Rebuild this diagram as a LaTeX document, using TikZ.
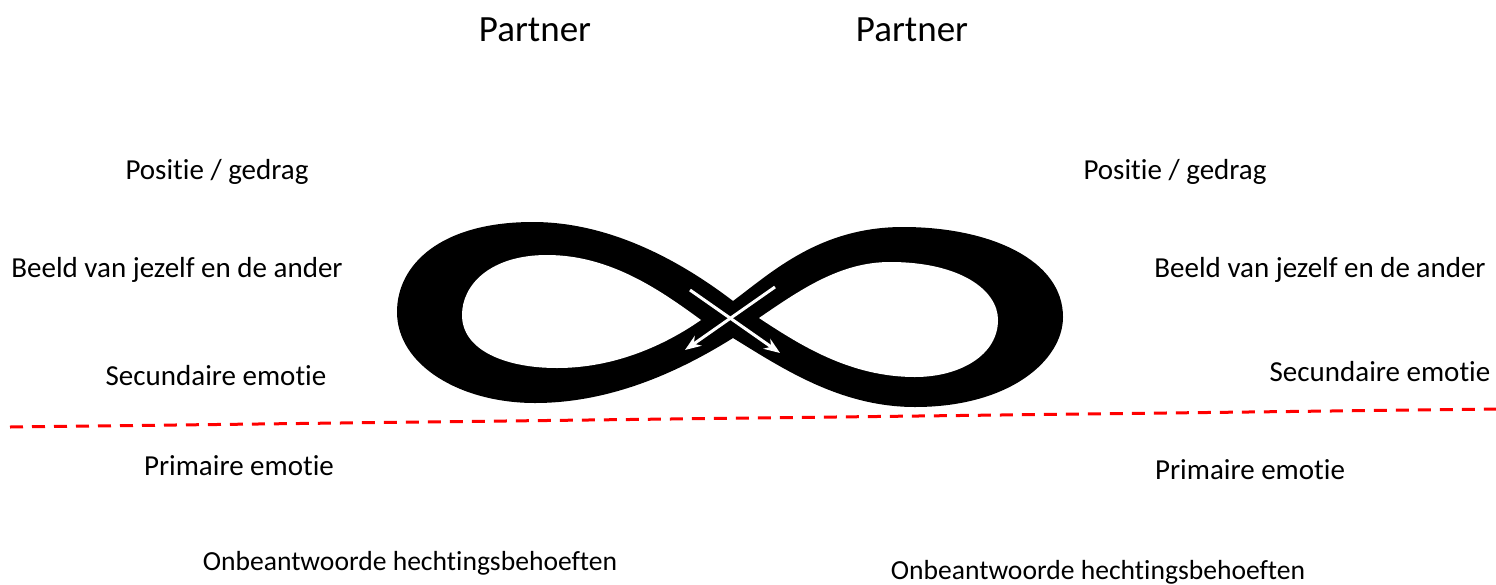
\documentclass[tikz,border=0pt]{standalone}
\usepackage{fontspec}
\setmainfont{Carlito}[Ligatures=NoCommon]
\usetikzlibrary{arrows.meta}

\tikzset{
  lbl/.style={font=\fontsize{29}{35}\selectfont, inner sep=0pt},
  needlbl/.style={font=\fontsize{27.6}{33}\selectfont, inner sep=0pt},
  partnerlbl/.style={font=\fontsize{37}{44}\selectfont, inner sep=0pt},
  crossarrow/.style={white, line width=3pt, -{Stealth[length=16pt, width=12pt]}},
}

\begin{document}
\begin{tikzpicture}[x=1pt, y=-1pt]
  \useasboundingbox (0,0) rectangle (1496,584);

  % -- Partners --
  \node[partnerlbl] (partnerL) at (535, 30) {Partner};
  \node[partnerlbl] (partnerR) at (912, 30) {Partner};

  % -- Infinity loop (outline, then holes) --
  \fill[black] (733,301) .. controls (695,272) and (620,222) .. (533,222)
    .. controls (440,222) and (397,265) .. (397,312)
    .. controls (397,365) and (460,403) .. (535,403)
    .. controls (615,403) and (685,368) .. (733,338)
    .. controls (782,368) and (840,407) .. (915,407)
    .. controls (1010,407) and (1063,360) .. (1063,317)
    .. controls (1063,260) and (990,227) .. (903,227)
    .. controls (820,227) and (772,272) .. (733,301) -- cycle;
  \fill[white] (701,320) .. controls (660,290) and (610,255) .. (547,255)
    .. controls (490,255) and (462,285) .. (462,315)
    .. controls (462,350) and (505,368) .. (557,368)
    .. controls (615,368) and (665,345) .. (701,320) -- cycle;
  \fill[white] (759,318) .. controls (800,290) and (840,262) .. (890,262)
    .. controls (960,262) and (998,290) .. (998,320)
    .. controls (998,355) and (960,377) .. (915,377)
    .. controls (850,377) and (800,345) .. (759,318) -- cycle;

  % -- Arrows in the crossing --
  \coordinate (arrAstart) at (775,287);
  \coordinate (arrAend) at (685,350);
  \coordinate (arrBstart) at (690,290);
  \coordinate (arrBend) at (780,353);
  \draw[crossarrow] (arrAstart) -- (arrAend);
  \draw[crossarrow] (arrBstart) -- (arrBend);

  % -- Boundary (dashed) --
  \coordinate (lineL) at (10,427);
  \coordinate (lineR) at (1496,409);
  \draw[red, line width=3pt, dash pattern=on 13pt off 9pt] (lineL) -- (lineR);

  % -- Left side --
  \node[lbl] (posL) at (217,172) {Positie / gedrag};
  \node[lbl] (beeldL) at (177,270) {Beeld van jezelf en de ander};
  \node[lbl] (secL) at (216,376) {Secundaire emotie};
  \node[lbl] (primL) at (239,466) {Primaire emotie};
  \node[needlbl] (hechtL) at (410,563) {Onbeantwoorde hechtingsbehoeften};

  % -- Right side --
  \node[lbl] (posR) at (1175,172) {Positie / gedrag};
  \node[lbl] (beeldR) at (1320,270) {Beeld van jezelf en de ander};
  \node[lbl] (secR) at (1380,372) {Secundaire emotie};
  \node[lbl] (primR) at (1250,470) {Primaire emotie};
  \node[needlbl] (hechtR) at (1098,572) {Onbeantwoorde hechtingsbehoeften};

\end{tikzpicture}
\end{document}
